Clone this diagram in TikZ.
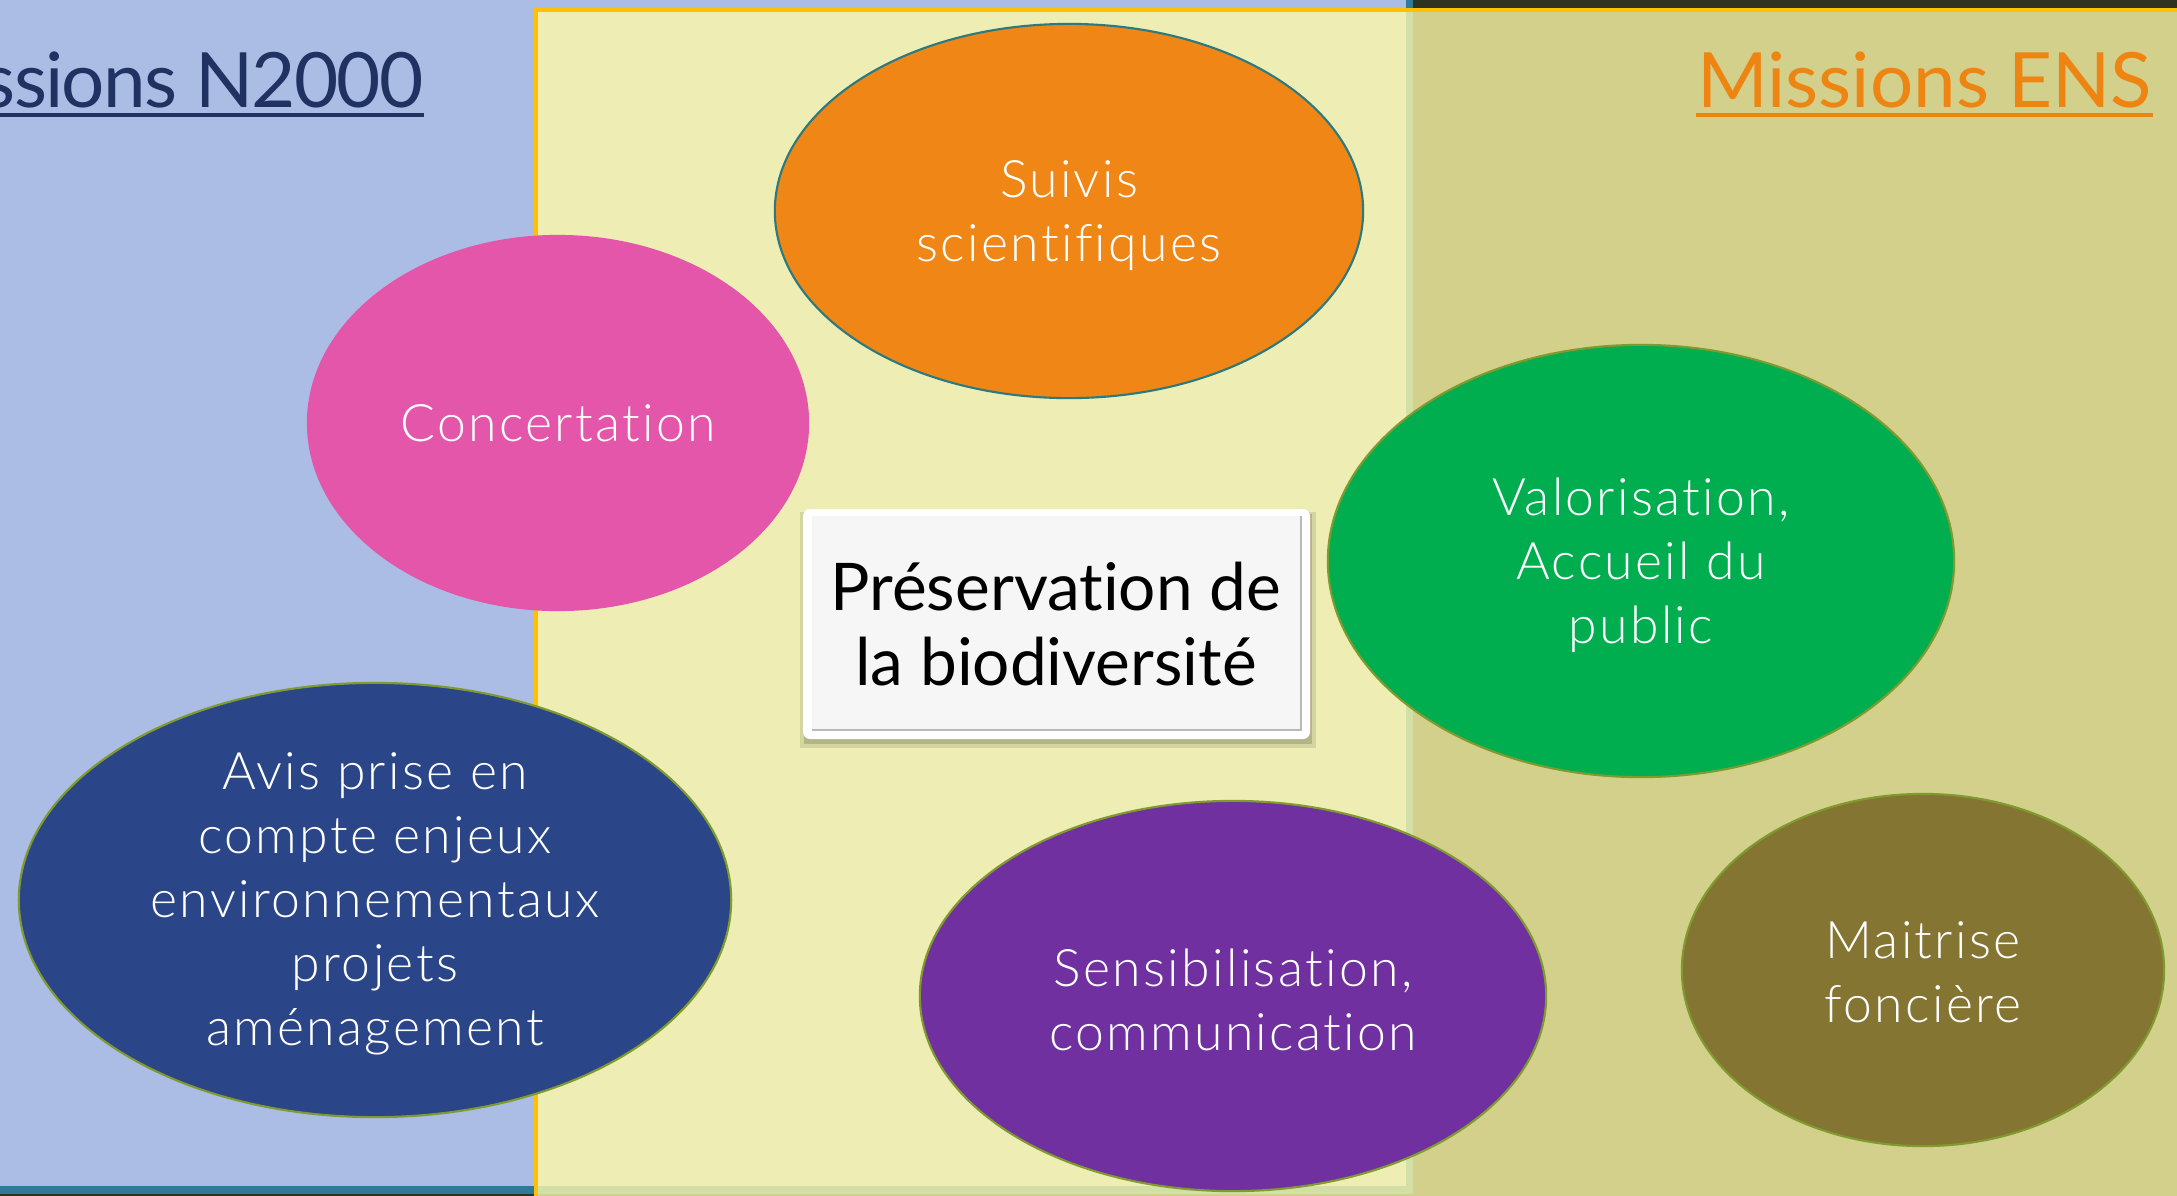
\documentclass[tikz,border=0pt]{standalone}
\usepackage{fontspec}
\setmainfont{Lato}[Ligatures=NoCommon]
\newfontfamily\lightfont{Lato Light}[Ligatures=NoCommon,LetterSpace=4.5]
\newfontfamily\tightfont{Lato}[Ligatures=NoCommon,LetterSpace=-2.3]
\usepackage{tikz}
\usetikzlibrary{shapes.geometric}

\definecolor{darkbg}{HTML}{2F3221}
\definecolor{tealedge}{HTML}{2E7A9B}
\definecolor{panelblue}{HTML}{ABBDE4}
\definecolor{paleyellow}{HTML}{FFFBA8}
\definecolor{gold}{HTML}{FFC000}
\definecolor{titlenavy}{HTML}{1F3262}
\definecolor{titleorange}{HTML}{EE8513}
\definecolor{suiviorange}{HTML}{EF8615}
\definecolor{concertpink}{HTML}{E456AA}
\definecolor{valogreen}{HTML}{00AE50}
\definecolor{avisnavy}{HTML}{2A4588}
\definecolor{sensipurple}{HTML}{7030A0}
\definecolor{maitriseolive}{HTML}{857532}
\definecolor{tealline}{HTML}{2A7A80}
\definecolor{oliveline}{HTML}{7F9A2E}
\definecolor{facegray}{HTML}{F6F6F6}

\begin{document}
\begin{tikzpicture}[x=0.01cm,y=-0.01cm,
  blob/.style={ellipse,inner sep=0pt,line width=0.6pt},
  lbl/.style={text=white,align=center,yshift=-1.2pt,font=\lightfont\fontsize{14.7}{18.2}\selectfont},
  heading/.style={inner sep=0pt,font=\fontsize{21.7}{26}\selectfont}]

\useasboundingbox (0,0) rectangle (2177,1196);
\clip (0,0) rectangle (2177,1196);

% panels
\fill[darkbg] (0,0) rectangle (2177,1196);
\fill[tealedge] (0,0) rectangle (1413,1194);
\fill[panelblue] (0,0) rectangle (1406,1186);
\filldraw[fill=paleyellow,fill opacity=0.79,draw=gold,line width=1.15pt] (536,10) rectangle (2220,1230);

% titles
\node[heading,text=titlenavy,anchor=base east] (n2000) at (424,107) {\tightfont Missions N2000};
\draw[titlenavy,line width=1.1pt] ([yshift=-2.3pt]n2000.base west) -- ([yshift=-2.3pt]n2000.base east);
\node[heading,text=titleorange,anchor=base east] (ens) at (2153,107) {Missions ENS};
\draw[titleorange,line width=1.1pt] ([yshift=-2.3pt]ens.base west) -- ([yshift=-2.3pt]ens.base east);

% missions
\node[blob,fill=suiviorange,draw=tealline,minimum width=5.88cm,minimum height=3.74cm] (suivis) at (1069,211) {};
\node[lbl] (suivistxt) at (suivis) {Suivis\\scientifiques};

\node[blob,fill=concertpink,minimum width=5.02cm,minimum height=3.76cm] (concert) at (558,423) {};
\node[lbl,yshift=1.2pt] (concerttxt) at (concert) {Concertation};

\node[blob,fill=valogreen,draw=oliveline,minimum width=6.26cm,minimum height=4.32cm] (valo) at (1641,561) {};
\node[lbl] (valotxt) at (valo) {Valorisation,\\Accueil du\\public};

\node[blob,fill=avisnavy,draw=oliveline,minimum width=7.12cm,minimum height=4.34cm] (avis) at (375,900) {};
\node[lbl] (avistxt) at (avis) {Avis prise en\\compte enjeux\\environnementaux\\projets\\aménagement};

\node[blob,fill=sensipurple,draw=oliveline,minimum width=6.26cm,minimum height=3.90cm] (sensi) at (1233,996) {};
\node[lbl] (sensitxt) at (sensi) {Sensibilisation,\\communication};

\node[blob,fill=maitriseolive,draw=oliveline,minimum width=4.82cm,minimum height=3.52cm] (maitrise) at (1923,970) {};
\node[lbl,yshift=0.6pt] (maitrisetxt) at (maitrise) {Maitrise\\foncière};

% central box
\fill[black,opacity=0.10] (800,512) rectangle (1316,748);
\fill[black,opacity=0.15] (804,514) rectangle (1312,744);
\fill[white,rounded corners=2pt] (803,509) rectangle (1310,739);
\fill[gray!55] (812,516) rectangle (1302,731);
\fill[white!92!gray] (812,516) rectangle (1300,729);
\fill[facegray] (815,519) rectangle (1299,728);
\node[font=\fontsize{18.7}{21.5}\selectfont,align=center] (pres) at (1056,624) {Préservation de\\la biodiversité};

\end{tikzpicture}
\end{document}
